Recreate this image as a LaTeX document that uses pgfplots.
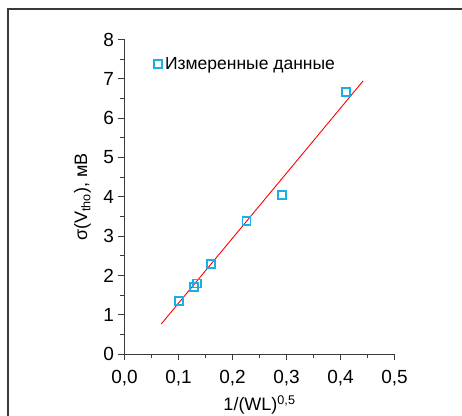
\documentclass[border=0pt]{standalone}
\usepackage{fontspec}
\setmainfont{Liberation Sans}
\usepackage{pgfplots}
\pgfplotsset{compat=1.18}
\definecolor{mcyan}{HTML}{1AAEE8}
\definecolor{axgray}{HTML}{3A3A3A}
\begin{document}
\fontsize{17.5pt}{21pt}\selectfont
\begin{tikzpicture}
\begin{axis}[
  anchor=origin, at={(0pt,0pt)},
  x=540pt, y=39.35pt,
  xmin=0, xmax=0.5, ymin=0, ymax=8,
  axis lines*=left,
  axis line style={-, axgray, line width=1pt},
  every tick/.style={axgray, line width=1pt},
  tick align=outside,
  major tick length=6pt, minor tick length=4pt,
  xtick={0,0.1,0.2,0.3,0.4,0.5},
  ytick={0,1,2,3,4,5,6,7,8},
  minor x tick num=1, minor y tick num=1,
  /pgf/number format/assume math mode=true,
  xticklabel style={/pgf/number format/.cd, use comma, fixed, fixed zerofill, precision=1, /tikz/.cd, yshift=-3.5pt},
  yticklabel style={xshift=1.5pt},
  ticklabel style={font=\fontsize{19pt}{22pt}\selectfont, text=black},
  xlabel={1/(WL)\textsuperscript{0,5}},
  ylabel={σ(V\textsubscript{tho}), мВ},
  label style={font=\fontsize{18pt}{21pt}\selectfont},
  xlabel style={at={(rel axis cs:0.5,0)}, anchor=center, yshift=-50.7pt},
  ylabel style={at={(rel axis cs:0,0.5)}, anchor=center, yshift=42pt},
  clip=false,
  legend style={draw=none, fill=none, at={(axis cs:0.053,7.37)}, anchor=west,
    font=\fontsize{17.5pt}{21pt}\selectfont, inner sep=0pt, row sep=0pt},
  legend cell align=left,
  legend image code/.code={\draw[mcyan, line width=1.8pt] (0.12cm,-0.13cm) rectangle (0.40cm,0.15cm);},
]
\addplot[only marks, mark=square, mark size=4pt, mark options={mcyan, line width=1.9pt}]
  coordinates {
  (0.1015,1.36)
  (0.1287,1.70)
  (0.1337,1.80)
  (0.160,2.29)
  (0.226,3.38)
  (0.291,4.04)
  (0.410,6.66)
  };
\addlegendentry{Измеренные данные}
\addplot[red, line width=0.9pt, forget plot] coordinates {(0.068,0.77) (0.442,6.95)};
\end{axis}
\pgfresetboundingbox
\useasboundingbox (-124.5pt,-60.7pt) rectangle (337.5pt,354.3pt);
\draw[axgray, line width=1.3pt] (-116.5pt,-62pt) -- (-116.5pt,345.3pt) -- (340pt,345.3pt);
\end{tikzpicture}
\end{document}
